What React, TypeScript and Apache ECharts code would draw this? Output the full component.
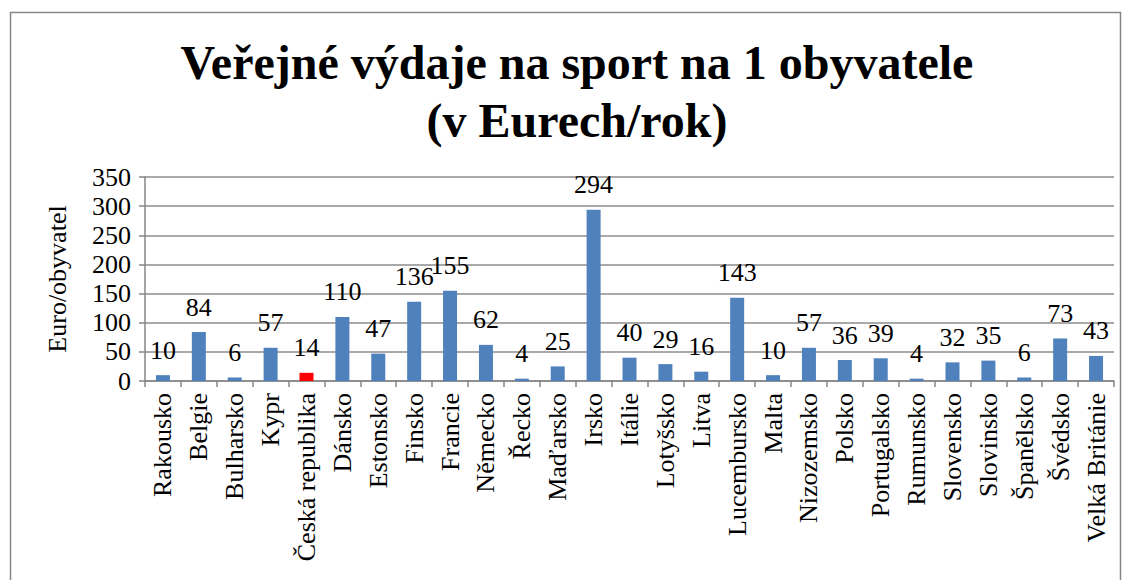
import React, { useEffect, useRef } from "react";
import * as echarts from "echarts";

const categories = [
  "Rakousko", "Belgie", "Bulharsko", "Kypr", "Česká republika", "Dánsko", "Estonsko",
  "Finsko", "Francie", "Německo", "Řecko", "Maďarsko", "Irsko", "Itálie", "Lotyšsko",
  "Litva", "Lucembursko", "Malta", "Nizozemsko", "Polsko", "Portugalsko", "Rumunsko",
  "Slovensko", "Slovinsko", "Španělsko", "Švédsko", "Velká Británie",
];
const values = [10, 84, 6, 57, 14, 110, 47, 136, 155, 62, 4, 25, 294, 40, 29, 16, 143, 10, 57, 36, 39, 4, 32, 35, 6, 73, 43];
const highlighted = "Česká republika";
const titleText = "Veřejné výdaje na sport na 1 obyvatele\n(v Eurech/rok)";
const yAxisName = "Euro/obyvatel";

export default function App() {
  const ref = useRef<HTMLDivElement>(null);
  useEffect(() => {
    if (!ref.current) return;
    const chart = echarts.init(ref.current, null, { renderer: "svg" });
    const font = "Liberation Serif";
    chart.setOption({
      animation: false,
      backgroundColor: "#fff",
      textStyle: { fontFamily: font, color: "#000" },
      title: {
        text: titleText,
        left: 572,
        textAlign: "center",
        top: 28,
        textStyle: { fontFamily: font, fontSize: 48, fontWeight: "bold", color: "#000", lineHeight: 58 },
      },
      graphic: [
        {
          type: "rect",
          shape: { x: 10.5, y: 12.5, width: 1110, height: 580 },
          style: { fill: "none", stroke: "#868686", lineWidth: 1.5 },
          silent: true,
        },
      ],
      grid: { left: 145, right: 18, top: 177, bottom: 199 },
      xAxis: {
        type: "category",
        data: categories,
        axisLine: { lineStyle: { color: "#868686", width: 1.5 } },
        axisTick: { show: true, length: 6, lineStyle: { color: "#868686", width: 1.5 } },
        axisLabel: { rotate: 90, interval: 0, fontSize: 26, color: "#000", fontFamily: font, margin: 12 },
      },
      yAxis: {
        type: "value",
        min: 0,
        max: 350,
        interval: 50,
        name: yAxisName,
        nameLocation: "middle",
        nameGap: 75,
        nameTextStyle: { fontSize: 26, color: "#000", fontFamily: font },
        axisLine: { show: true, lineStyle: { color: "#868686", width: 1.5 } },
        axisTick: { show: true, length: 6, lineStyle: { color: "#868686", width: 1.5 } },
        axisLabel: { fontSize: 26, color: "#000", fontFamily: font, margin: 14 },
        splitLine: { lineStyle: { color: "#8c8c8c", width: 1.5 } },
      },
      series: [
        {
          type: "bar",
          data: values.map((v, i) => ({
            value: v,
            itemStyle: { color: categories[i] === highlighted ? "#FF0000" : "#4F81BD" },
          })),
          barCategoryGap: "61%",
          label: { show: true, position: "top", distance: 12, fontSize: 26, color: "#000", fontFamily: font },
        },
      ],
    });
    return () => chart.dispose();
  }, []);
  return <div ref={ref} style={{ position: "fixed", left: 0, top: 0, width: 1132, height: 580 }} />;
}
